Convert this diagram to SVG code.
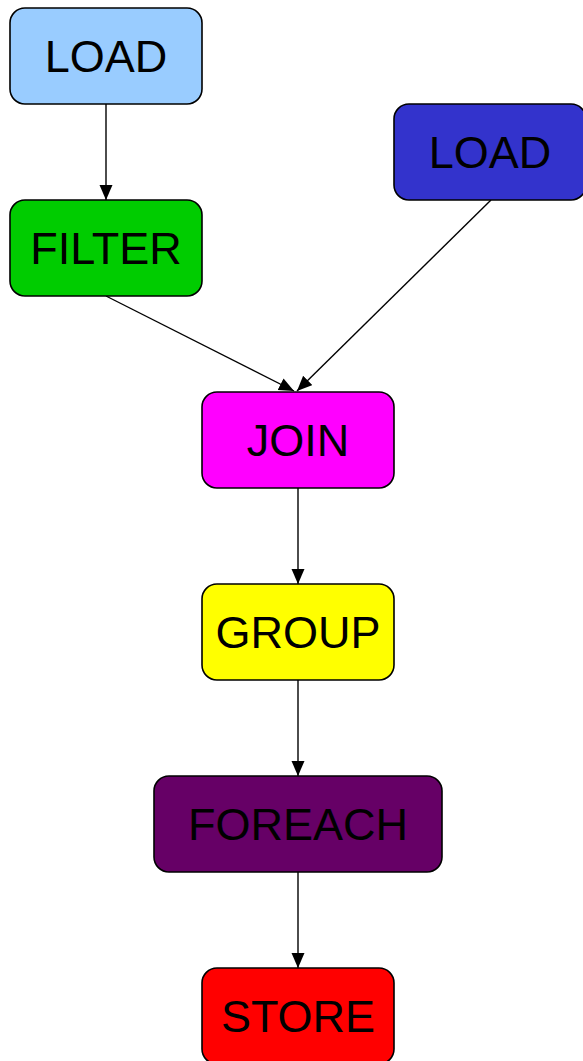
<svg xmlns="http://www.w3.org/2000/svg" width="583" height="1061" viewBox="0 0 583 1061">
<style>
.box{stroke:#000;stroke-width:1.6}
.lbl{font-family:"Liberation Sans",Arial,sans-serif;font-size:45px;fill:#000;text-anchor:middle}
.edge{stroke:#000;stroke-width:1.4;fill:none;marker-end:url(#arr)}
</style>
<defs>
<marker id="arr" markerUnits="userSpaceOnUse" markerWidth="16" markerHeight="14" refX="15" refY="6.5" orient="auto">
<path d="M0,0 L15,6.5 L0,13 z" fill="#000"/>
</marker>
</defs>
<rect width="583" height="1061" fill="#fff"/>
<g id="edges">
<line class="edge" x1="106" y1="104" x2="106" y2="200"/>
<line class="edge" x1="106" y1="296" x2="294" y2="391"/>
<line class="edge" x1="491" y1="200" x2="297" y2="391"/>
<line class="edge" x1="298" y1="488" x2="298" y2="584"/>
<line class="edge" x1="298" y1="680" x2="298" y2="776"/>
<line class="edge" x1="298" y1="872" x2="298" y2="968"/>
</g>
<g id="load1"><rect class="box" x="10" y="8" width="192" height="96" rx="15" fill="#99ccff"/><text class="lbl" x="106" y="72">LOAD</text></g>
<g id="filter"><rect class="box" x="10" y="200" width="192" height="96" rx="15" fill="#00cc00"/><text class="lbl" x="106" y="264">FILTER</text></g>
<g id="load2"><rect class="box" x="394" y="104" width="192" height="96" rx="15" fill="#3333cc"/><text class="lbl" x="490" y="168">LOAD</text></g>
<g id="join"><rect class="box" x="202" y="392" width="192" height="96" rx="15" fill="#ff00ff"/><text class="lbl" x="298" y="456">JOIN</text></g>
<g id="group"><rect class="box" x="202" y="584" width="192" height="96" rx="15" fill="#ffff00"/><text class="lbl" x="298" y="648">GROUP</text></g>
<g id="foreach"><rect class="box" x="154" y="776" width="288" height="96" rx="15" fill="#660066"/><text class="lbl" x="298" y="840">FOREACH</text></g>
<g id="store"><rect class="box" x="202" y="968" width="192" height="96" rx="15" fill="#ff0000"/><text class="lbl" x="298" y="1032">STORE</text></g>
</svg>
